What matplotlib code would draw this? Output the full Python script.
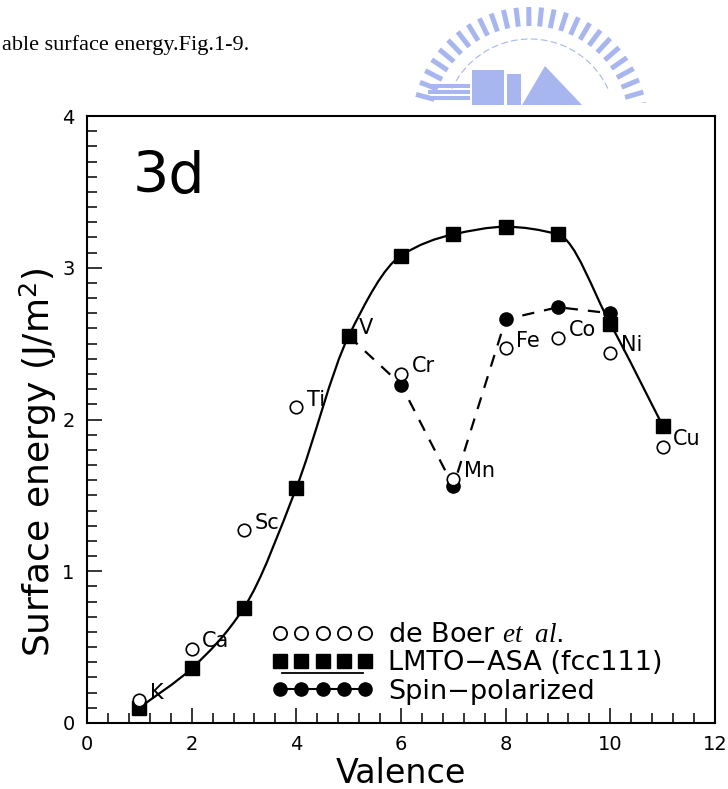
import numpy as np
import matplotlib
matplotlib.use('Agg')
import matplotlib.pyplot as plt
from matplotlib.path import Path
from matplotlib.patches import PathPatch, Rectangle, Polygon
from matplotlib.lines import Line2D
from matplotlib.legend_handler import HandlerBase
from matplotlib.ticker import MultipleLocator

plt.rcParams['font.family'] = ['DejaVu Sans']
plt.rcParams['mathtext.fontset'] = 'custom'
plt.rcParams['mathtext.rm'] = 'DejaVu Sans'
plt.rcParams['mathtext.it'] = 'Liberation Serif:italic'

# ---------------- data ----------------
valence = [1, 2, 3, 4, 5, 6, 7, 8, 9, 10, 11]
elements = ['K', 'Ca', 'Sc', 'Ti', 'V', 'Cr', 'Mn', 'Fe', 'Co', 'Ni', 'Cu']
de_boer = [0.15, 0.49, 1.27, 2.08, np.nan, 2.30, 1.61, 2.47, 2.54, 2.44, 1.82]
lmto = [0.10, 0.36, 0.76, 1.55, 2.55, 3.08, 3.22, 3.27, 3.22, 2.63, 1.96]
spin_valence = [5, 6, 7, 8, 9, 10]
spin = [2.55, 2.23, 1.56, 2.66, 2.74, 2.70]
xticks = [0, 2, 4, 6, 8, 10, 12]
yticks = [0, 1, 2, 3, 4]
legend_labels = [r'de Boer $\mathit{et\ \ al.}$', 'LMTO\u2212ASA (fcc111)', 'Spin\u2212polarized']

W, H = 728, 789
fig = plt.figure(figsize=(W / 100, H / 100), dpi=100)

# ---------------- watermark logo (decoration) ----------------
axl = fig.add_axes([0, 0, 1, 1], zorder=-1)
axl.set_xlim(0, W)
axl.set_ylim(H, 0)
axl.axis('off')
clip = Rectangle((0, 0), W, 103, transform=axl.transData)
lc = '#a7b6ee'
cx, cy, rin, rout = 530, 125, 99, 118
for ang in np.arange(10, 171, 6.2):
    a = np.deg2rad(ang)
    ln, = axl.plot([cx + rin * np.cos(a), cx + rout * np.cos(a)],
                   [cy - rin * np.sin(a), cy - rout * np.sin(a)],
                   color=lc, lw=3.6, solid_capstyle='butt')
    ln.set_clip_path(clip)
t = np.linspace(np.deg2rad(25), np.deg2rad(155), 100)
arc, = axl.plot(cx + 86 * np.cos(t), cy - 86 * np.sin(t), color=lc, lw=0.8, ls=(0, (6, 3)))
arc.set_clip_path(clip)
for yy in (84, 90, 96):
    axl.add_patch(Rectangle((428, yy), 42, 3.5, color=lc, lw=0))
axl.add_patch(Rectangle((472, 70), 32, 35, color=lc, lw=0, clip_path=clip))
axl.add_patch(Rectangle((507, 74), 14, 31, color=lc, lw=0, clip_path=clip))
axl.add_patch(Polygon([[522, 105], [545, 66], [582, 105]], closed=True, color=lc, lw=0, clip_path=clip))

# ---------------- caption text ----------------
fig.text(2 / W, 1 - 50 / H, 'able surface energy.Fig.1-9.', family='Liberation Serif',
         fontsize=16, ha='left', va='baseline')

# ---------------- main axes ----------------
ax = fig.add_axes([87 / W, 66 / H, 628 / W, 607 / H])
ax.set_xlim(0, 12)
ax.set_ylim(0, 4)
ax.set_xticks(xticks)
ax.set_yticks(yticks)
ax.xaxis.set_minor_locator(MultipleLocator(0.4))
ax.yaxis.set_minor_locator(MultipleLocator(0.1))
ax.tick_params(which='both', direction='in', top=False, right=False, width=1.1, labelsize=14)
ax.tick_params(which='major', length=11, pad=9)
ax.tick_params(which='minor', length=7)
for s in ax.spines.values():
    s.set_linewidth(1.5)

# smooth monotone (PCHIP-type) cubic curve through the LMTO points, drawn as Beziers
xs = np.asarray(valence, float)
ys = np.asarray(lmto, float)
h = np.diff(xs)
d = np.diff(ys) / h
m = np.zeros_like(ys)
for i in range(1, len(ys) - 1):
    if d[i - 1] * d[i] > 0:
        m[i] = 2.0 / (1.0 / d[i - 1] + 1.0 / d[i])
m[0] = d[0]
m[-1] = d[-1]
verts = [(xs[0], ys[0])]
codes = [Path.MOVETO]
for i in range(len(xs) - 1):
    verts += [(xs[i] + h[i] / 3, ys[i] + m[i] * h[i] / 3),
              (xs[i + 1] - h[i] / 3, ys[i + 1] - m[i + 1] * h[i] / 3),
              (xs[i + 1], ys[i + 1])]
    codes += [Path.CURVE4] * 3
ax.add_patch(PathPatch(Path(verts, codes), fill=False, ec='k', lw=1.6, zorder=2))

ax.plot(valence, lmto, ls='none', marker='s', color='k', ms=9.5, zorder=4)
ax.plot(spin_valence, spin, ls=(0, (5.5, 4.5)), lw=1.6, color='k', marker='o', ms=9.5, zorder=3)
ax.plot(valence, de_boer, ls='none', marker='o', mfc='white', mec='k', ms=9, mew=1.2, zorder=5)

for x, el, db, lm in zip(valence, elements, de_boer, lmto):
    yy = lm if np.isnan(db) else db
    ax.annotate(el, (x, yy), xytext=(7.5, 5.5), textcoords='offset points',
                fontsize=15, ha='left', va='center', zorder=6)

ax.text(133 / W, 1 - 193 / H, '3d', transform=fig.transFigure, fontsize=41,
        ha='left', va='baseline')

fig.text(401 / W, 1 - 783 / H, 'Valence', fontsize=24, ha='center', va='baseline')
fig.text(50 / W, 1 - 462 / H, r'Surface energy (J/m$^2$)', fontsize=26, rotation=90,
         rotation_mode='anchor', ha='center', va='baseline')


# ---------------- legend ----------------
class HandlerUnderline(HandlerBase):
    def create_artists(self, legend, orig_handle, xdescent, ydescent, width, height,
                       fontsize, trans):
        y = -0.1 * fontsize
        ln = Line2D([-xdescent + 0.1 * width, -xdescent + 0.9 * width], [y, y],
                    color='k', lw=1.3)
        ln.set_transform(trans)
        return [ln]


h1 = Line2D([], [], ls='none', marker='o', mfc='white', mec='k', ms=9.5, mew=1.3)
h2 = Line2D([], [], ls='none', marker='s', color='k', ms=10)
h2u = Line2D([], [], color='k', lw=1.3)
h3 = Line2D([], [], ls='-', lw=1.5, marker='o', color='k', ms=9.5)
ax.legend([h1, (h2, h2u), h3], legend_labels, numpoints=5, handlelength=3.77,
          handletextpad=0.53, labelspacing=0.09, borderpad=0, borderaxespad=0,
          frameon=False, fontsize=19.5, loc='upper left',
          bbox_to_anchor=((271.5 - 87) / 628, (723 - 622) / 607),
          handler_map={h2u: HandlerUnderline()})

fig.savefig('out.png', dpi=100)
